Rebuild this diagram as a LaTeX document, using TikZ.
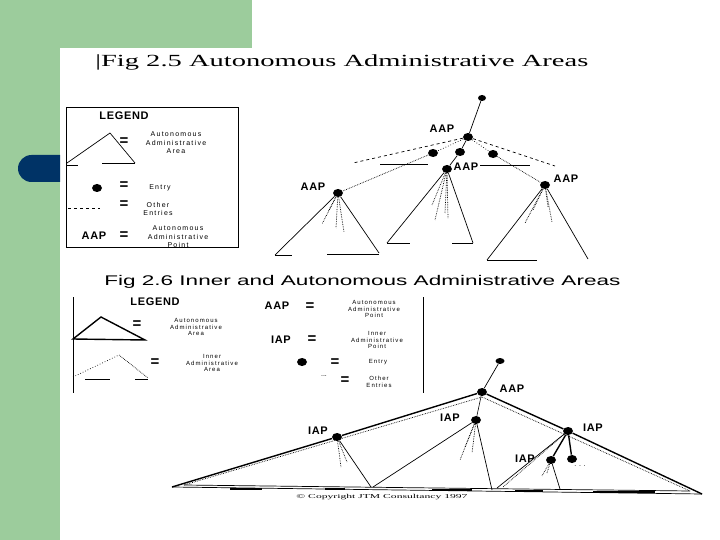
\documentclass[tikz,border=0pt]{standalone}
\usepackage{fontspec}
\setmainfont{Liberation Serif}
\setsansfont{Liberation Sans}
\newfontfamily\legfont[LetterSpace=18]{Liberation Sans}
\newfontfamily\lblfont[LetterSpace=6]{Liberation Sans}
\usetikzlibrary{shapes.geometric}
\definecolor{slidegreen}{RGB}{156,204,156}
\definecolor{tabblue}{RGB}{0,51,102}
\begin{document}
\begin{tikzpicture}[x=1pt,y=-1pt,every path/.style={line width=0.7pt},
  dot/.style={ellipse,fill=black,inner sep=0pt,minimum width=10pt,minimum height=8pt},
  tiny/.style={font=\legfont\fontsize{7}{8.5}\selectfont,align=center,inner sep=0pt},
  tinier/.style={font=\legfont\fontsize{6}{6.8}\selectfont,align=center,inner sep=0pt},
  lab/.style={font=\lblfont\bfseries\fontsize{11}{11}\selectfont,inner sep=0pt},
  eqs/.style={font=\sffamily\bfseries\fontsize{15}{15}\selectfont,inner sep=0pt},
  fan/.style={densely dotted},
  side/.style={line width=1.4pt}]
\useasboundingbox (0,0) rectangle (720,540);
\fill[white] (0,0) rectangle (720,540);
\fill[slidegreen] (0,0) rectangle (252,48);
\fill[slidegreen] (0,0) rectangle (60,540);
\fill[tabblue] (60,155) -- (31.5,155) arc[start angle=270,end angle=90,radius=13.5] -- (60,182) -- cycle;

\node[anchor=west,inner sep=0pt] (title1) at (95,62) {\resizebox{493pt}{\height}{\fontsize{17}{17}\selectfont |Fig 2.5 Autonomous Administrative Areas}};

\draw (66,107) rectangle (238,247);
\node[lab] (leg1) at (124,116) {LEGEND};
\draw (67,163) -- (110,133) -- (135,163);
\draw (67,165) -- (78,165);
\draw (102,163) -- (135,163);
\node[eqs] (eq1) at (124,142) {=};
\node[tiny] (area1) at (176,143) {Autonomous\\Administrative\\Area};
\node[dot] (ent1) at (97,188) {};
\node[eqs] (eq2) at (124,186) {=};
\node[tiny] (ent1t) at (160,188) {Entry};
\draw[dashed] (68,208) -- (100,208);
\node[eqs] (eq3) at (124,205) {=};
\node[tiny] (oth1) at (158,209) {Other\\Entries};
\node[lab] (aap1t) at (94,236) {AAP};
\node[eqs] (eq4) at (124,236) {=};
\node[tiny] (pt1) at (178,237) {Autonomous\\Administrative\\Point};

\node[dot,minimum width=8pt,minimum height=6pt] (top) at (482,98) {};
\node[dot] (aap) at (468,137) {};
\node[dot] (e1) at (433,153) {};
\node[dot] (e2) at (460,152) {};
\node[dot] (e3) at (493,154) {};
\node[dot] (aapL) at (338,193) {};
\node[dot] (aapM) at (447,169) {};
\node[dot] (aapR) at (545,185) {};
\node[lab] at (442,129) {AAP};
\node[lab] at (313,187) {AAP};
\node[lab] at (466,167) {AAP};
\node[lab] at (566,179) {AAP};
\coordinate (wl) at (353,163);
\coordinate (wr) at (555,166);
\draw (top) -- (aap);
\draw[dotted] (aap) -- (e1);
\draw (aap) -- (e2);
\draw[dotted] (aap) -- (e3);
\draw[densely dotted] (e1) -- (aapL);
\draw (e2) -- (aapM);
\draw[densely dotted] (e3) -- (aapR);
\draw[dashed] (aap) -- (wl);
\draw[dashed] (aap) -- (wr);
\draw (380,164) -- (428,164);
\draw (480,165) -- (530,165);

\draw (275,255) -- (aapL) -- (379,253);
\draw (275,255) -- (292,255);
\draw (327,254) -- (379,254);
\foreach \p in {(322,224),(328,212),(336,228),(344,232)}
  \draw[fan] (aapL) -- \p;
\draw (387,243) -- (aapM) -- (473,243);
\draw (387,243) -- (410,243);
\draw (452,243) -- (473,243);
\foreach \p in {(432,205),(435,220),(445,213),(448,219)}
  \draw[fan] (aapM) -- \p;
\draw (487,260) -- (aapR) -- (588,259);
\draw (487,260) -- (537,260);
\foreach \p in {(525,223),(533,210),(552,222),(548,207)}
  \draw[fan] (aapR) -- \p;

\node[anchor=west,inner sep=0pt] (title2) at (104,282) {\resizebox{516pt}{\height}{\sffamily\fontsize{14}{14}\selectfont Fig 2.6 Inner and Autonomous Administrative Areas}};

\draw (73,297) -- (73,393);
\draw (423,297) -- (423,393);
\node[lab] (leg2) at (155,302) {LEGEND};
\draw[side] (73,339) -- (101,317) -- (145,340) -- cycle;
\node[eqs] (eq5) at (137,325) {=};
\node[tinier] (area2) at (196,327) {Autonomous\\Administrative\\Area};
\draw[dotted] (73,377) -- (119,355);
\draw[densely dotted] (119,355) -- (148,378);
\draw (85,379) -- (110,379);
\draw (135,379) -- (148,379);
\node[eqs] (eq6) at (155,363) {=};
\node[tinier] (area3) at (212,363) {Inner\\Administrative\\Area};
\node[lab] (aap2t) at (277,306) {AAP};
\node[eqs] (eq7) at (310,307) {=};
\node[tinier] (pt2) at (374,309) {Autonomous\\Administrative\\Point};
\node[lab] (iap2t) at (281,340) {IAP};
\node[eqs] (eq8) at (312,340) {=};
\node[tinier] (pt3) at (377,340) {Inner\\Administrative\\Point};
\node[dot] (ent2) at (302,362) {};
\node[eqs] (eq9) at (335,363) {=};
\node[tinier] (ent2t) at (378,362) {Entry};
\node[inner sep=0pt,font=\sffamily\fontsize{7}{7}\selectfont] (oth2d) at (324,376) {...};
\node[eqs] (eq10) at (345,381) {=};
\node[tinier] (oth2) at (379,382) {Other\\Entries};

\node[dot,minimum width=9pt,minimum height=6pt] (top2) at (500,361) {};
\node[dot] (aap2) at (482,392) {};
\node[dot] (iapM) at (476,420) {};
\node[dot] (iapL) at (337,437) {};
\node[dot] (iapR) at (568,431) {};
\node[dot] (iapS) at (551,460) {};
\node[dot] (e4) at (572,459) {};
\node[lab] at (512,389) {AAP};
\node[lab] at (450,418) {IAP};
\node[lab] at (318,431) {IAP};
\node[lab] at (593,428) {IAP};
\node[lab] at (525,459) {IAP};
\coordinate (bl) at (172,487);
\coordinate (br) at (702,494);
\coordinate (bli) at (184,485);
\coordinate (bri) at (690,491);
\coordinate (api) at (482,397);
\draw (top2) -- (aap2);
\draw[side] (aap2) -- (iapL) -- (bl);
\draw[side] (aap2) -- (iapR) -- (br);
\draw[densely dotted] (bli) -- (api) -- (bri);
\draw (bl) -- (br);
\draw (bli) -- (bri);
\draw[line width=1.4pt] (230,489) -- (262,489);
\draw[line width=1.4pt] (325,489) -- (345,489);
\draw[line width=1.4pt] (432,490) -- (472,490);
\draw[line width=1.4pt] (515,491) -- (543,491);
\draw[line width=1.4pt] (593,492) -- (655,492);
\draw[semithick] (aap2) -- (iapM);
\draw (iapL) -- (371,487);
\foreach \p in {(341,467),(347,462)}
  \draw[fan] (iapL) -- \p;
\draw (373,487) -- (iapM) -- (492,490);
\foreach \p in {(460,460),(465,447),(472,453)}
  \draw[fan] (iapM) -- \p;
\draw[side] (iapR) -- (iapS);
\draw[side] (iapR) -- (e4);
\draw (iapR) -- (497,488);
\draw[densely dotted] (iapR) -- (503,487);
\draw (iapS) -- (560,489);
\foreach \p in {(542,476),(547,473)}
  \draw[fan] (iapS) -- \p;
\node[inner sep=0pt,font=\sffamily\fontsize{7}{7}\selectfont] (e4d) at (580,466) {. . .};
\node[inner sep=0pt] (copy) at (382,497) {\resizebox{171pt}{\height}{\fontsize{6}{6}\selectfont \textcopyright{} Copyright JTM Consultancy 1997}};
\end{tikzpicture}
\end{document}
